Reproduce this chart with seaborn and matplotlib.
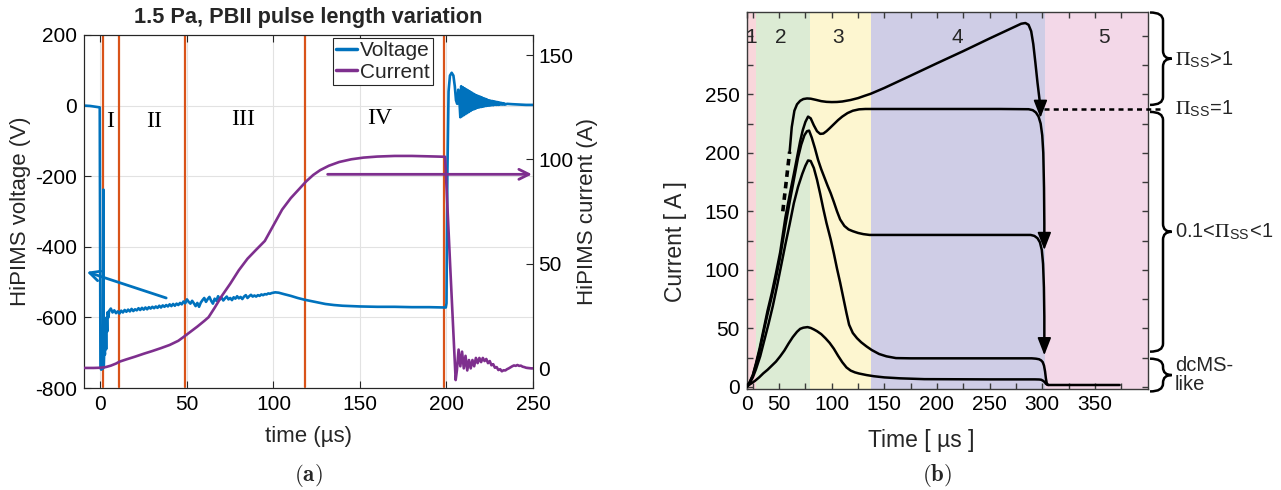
import numpy as np
import matplotlib
matplotlib.use("Agg")
import matplotlib.pyplot as plt
import seaborn as sns
from matplotlib import font_manager
from matplotlib.path import Path
from matplotlib.patches import PathPatch
from matplotlib.lines import Line2D

# ------------------------------------------------------------------ data (a)
volt_pre_t = [-9.5, -6, -3, -0.4]
volt_pre_v = [0, -1, -3, -5]
volt_start_t = [0.0, 0.4, 1.4, 1.7, 1.9, 2.2, 2.6, 3.0, 3.3, 3.6, 3.9, 4.2, 4.6]
volt_start_v = [-742, -748, -745, -238, -742, -690, -705, -620, -690, -600, -640, -585, -600]
volt_noise_t0 = 5  # first time of the 1-us spaced noisy section
volt_noise_v = [-582, -575, -586, -580, -588, -583, -589, -581, -586, -579,
                -584, -578, -583, -576, -582, -577, -580, -574, -579, -573,
                -578, -572, -577, -571, -575, -570, -574, -569, -573, -567,
                -572, -566, -570, -565, -569, -563, -568, -562, -567, -561,
                -565, -559, -563, -555, -560, -549, -556, -561, -553, -560,
                -568, -559, -570, -558, -551, -545, -556, -548, -542, -553,
                -561, -547, -553, -540, -549, -544, -552, -546, -541, -549,
                -545, -551, -543, -547, -540, -546, -542, -548, -541, -537,
                -545, -540, -536, -541, -538, -541, -537, -539, -535, -537,
                -534, -535, -532, -533, -531, -530]
volt_tail_t = [101, 103, 106, 110, 114, 118, 122, 126, 130, 135, 140, 150, 160, 170, 180, 190, 199.6]
volt_tail_v = [-529, -530, -534, -539, -545, -550, -554, -558, -562, -565, -567, -569, -570, -570, -571, -571, -572]
volt_post_t = [200.0, 200.5, 201.2, 202.0, 203.0, 204.0, 204.8, 205.5, 206.2, 206.8, 207.4, 208.0]
volt_post_v = [-560, -200, 40, 85, 93, 85, 55, 15, 5, 45, 20, -33]
volt_ring_t0 = 208.5  # ringing sampled every 0.5 us
volt_ring_v = [55, -30, 52, -27, 49, -24, 46, -21, 43, -18, 40, -15, 37, -12, 34, -10,
               31, -8, 29, -6, 27, -5, 25, -4, 23, -3, 21, -2, 19, -1, 17, 0, 15, 0,
               14, 1, 13, 1, 12, 2, 11, 2, 10, 2, 9, 3, 8, 3, 7, 3, 6, 3]
volt_end_t = [235, 238, 242, 246, 250]
volt_end_v = [5, 4, 3, 2, 2]

curr_t = [-9.5, -4, 0, 3, 6, 9, 11, 15, 20, 25, 30, 35, 40, 45, 48, 52, 56, 60, 62.5,
          66, 70, 75, 80, 85, 90, 95, 100, 105, 110, 115, 119, 123, 127, 132, 138,
          145, 152, 160, 170, 180, 190, 199.2, 202.2, 205.3]
curr_i = [0.2, 0.2, 0.3, 0.6, 1.3, 2.3, 3.2, 4.3, 5.6, 7, 8.3, 9.7, 11.2, 13.2, 15,
          17.5, 20, 22.7, 24.5, 29, 34.5, 40.5, 47, 52.5, 56.8, 61, 68.5, 76, 81.5,
          86, 89.6, 92.6, 94.9, 97, 98.8, 100.1, 100.9, 101.4, 101.7, 101.7, 101.5,
          101.3, 48, -5.6]
curr_post_t0 = 206  # 1-us spaced after the pulse
curr_post_i = [-1, 9, 1, 8, 0, 6, -1, 4, 0, 4, 1, 5, 2.5, 5, 3, 5, 3.5, 4.5, 2.5, 3.5,
               1.5, 2, 0.3, 0.6, -0.8, -0.4, -1.4, -0.9, -1, -0.4, 0, 0.5, 1, 1.4,
               1.2, 1.6, 1.2, 1.3, 0.8, 0.6, 0.3, 0.2, 0.1, 0, 0]

phase_lines_a = [1.3, 11.0, 48.7, 118.5, 198.3]
phase_labels_a = ["I", "II", "III", "IV"]
phase_label_t = [5.5, 31.0, 82.7, 161.5]
phase_label_v = [-44, -44, -40, -36]

# ------------------------------------------------------------------ data (b)
region_edges = [19, 28, 79, 137.5, 303, 400.5]
region_colors = ["#f9d6db", "#dcebd4", "#fdf6d0", "#cfcde6", "#f3d8e8"]
region_names = ["1", "2", "3", "4", "5"]
region_label_t = [23.7, 51.6, 105.8, 218.9, 358.3]

A_t = [60, 62, 64.5, 67, 70, 73, 76.5, 80, 85, 90, 95, 100, 105, 110, 118, 125, 131,
       137, 150, 175, 200, 225, 250, 270, 280, 284, 287, 289.5, 291.5, 293.5, 295.5, 297.5, 298.3]
A_i = [201, 222, 236, 241.5, 244.5, 246, 246.5, 246.3, 245.3, 244.2, 243.6, 243.4,
       243.5, 243.9, 245.2, 246.8, 248.7, 250.5, 255.5, 266, 276.6, 287, 297.8,
       306.2, 310.4, 311, 309.5, 304, 293, 277, 260, 245, 238]
A_dash_t = [53.5, 60]
A_dash_i = [150, 201]

B_t = [19, 22, 25, 28, 31.5, 35.5, 39, 43, 47, 51, 56, 60, 64, 67, 70, 72.5, 75, 77.5,
       80, 83, 86, 89, 92, 95, 98, 102, 106, 110, 115, 120, 126, 132, 140, 200, 260,
       287, 291, 294, 296.5, 298.5, 300, 301, 301.7, 302, 302]
B_i = [0, 4, 10, 20, 33, 50, 65, 80, 97, 115, 145, 164, 182, 196, 210, 219.5, 226.5,
       231, 229.5, 223.5, 218.5, 216.2, 216.5, 218.5, 221, 224.5, 228, 231, 234, 236,
       237.2, 237.5, 237.5, 237.5, 237.5, 237.3, 236.5, 234.5, 231, 225, 215, 200,
       170, 140, 125]

C_t = [19, 22, 25, 28, 31.5, 35.5, 39, 43, 47, 51, 56, 60, 64, 68, 71, 74, 76.5, 78.5,
       81, 84, 87, 90, 93, 96, 99, 102, 105, 108, 112, 116, 120, 125, 130, 136, 145,
       200, 260, 289, 292.5, 295.5, 297.8, 299.6, 300.8, 301.6, 302, 302]
C_i = [0, 3.5, 9.5, 19, 31, 48, 62, 77, 93, 111, 138, 158, 177, 196, 207, 215, 218.5,
       219, 213, 204, 194, 186, 179, 172, 165.5, 158, 150, 143, 137.5, 134.5, 133,
       131.5, 130.5, 129.8, 129.8, 129.8, 129.8, 129.8, 129, 127, 123.5, 117, 105,
       85, 60, 35]

D_t = [19, 22, 25, 28, 32, 36, 40, 44, 48, 52, 56, 60, 64, 68, 72, 75, 77.5, 80, 83,
       86, 89, 92, 95, 99, 102, 105, 108, 111, 114, 116.5, 120, 124, 128, 133, 138,
       145, 152, 161, 175, 200, 260, 290, 294, 297, 299, 300.5, 301.7, 302.7, 303.5,
       304.3, 305.5]
D_i = [0, 3, 8, 15, 26, 40, 54, 69, 86, 104, 122, 139, 157, 171, 182, 189, 193.5, 193,
       187, 177, 165, 152, 140, 126, 114, 101, 89, 76, 63, 53, 46, 41.5, 38, 34.5,
       31.4, 28, 26, 24.5, 24.3, 24.3, 24.3, 24.3, 24, 23.5, 22.5, 21, 18, 13, 7, 3, 1.5]

E_t = [19, 23, 27, 31, 35, 39, 43, 47, 51, 55, 59, 63, 67, 70, 73, 77, 80, 83, 86, 90,
       94, 98, 102, 106, 110, 114, 118, 122, 126, 133, 140, 150, 165, 188, 250, 293,
       297, 299, 301, 302.5, 303.5, 304.5, 306, 340, 373.5]
E_i = [0, 2.5, 5, 8, 11.5, 14.5, 18, 21.5, 26, 31, 37, 42.5, 47, 49.5, 50.5, 51, 50.3,
       49, 47.5, 45, 41.5, 37.5, 32.5, 26.5, 21, 16.5, 13.8, 12.3, 11.3, 10, 9, 8, 7.2,
       6.5, 6.3, 6.3, 6.2, 6, 5, 3.8, 2.5, 1.8, 1.5, 1.5, 1.5]

pi_one_level = 237.5
arrow_tips_b = [(298.3, 230), (302, 117), (302, 27)]

xticks_b = [19, 50, 100, 150, 200, 250, 300, 350]
xticklabels_b = ["0", "50", "100", "150", "200", "250", "300", "350"]

# ------------------------------------------------------------------ style
sns.set_theme(style="ticks")
avail = {f.name for f in font_manager.fontManager.ttflist}
SANS = "Liberation Sans" if "Liberation Sans" in avail else "DejaVu Sans"
SERIF = "Liberation Serif" if "Liberation Serif" in avail else "DejaVu Serif"
plt.rcParams["font.family"] = [SANS, "DejaVu Sans"]
plt.rcParams["mathtext.fontset"] = "stix"
plt.rcParams["axes.unicode_minus"] = False

BLUE = "#0072BD"
PURPLE = "#7E2F8E"
ORANGE = "#D95319"
AX_COL = "#262626"
FS_A = 15
FS_B = 15


def sline(ax, x, y, **kw):
    sns.lineplot(x=np.asarray(x, float), y=np.asarray(y, float), ax=ax, sort=False,
                 estimator=None, errorbar=None, legend=False, **kw)


fig = plt.figure(figsize=(12.81, 4.90), dpi=100)

# ================================================================== panel (a)
axA = fig.add_axes([84 / 1281, 102 / 490, 449 / 1281, 353 / 490])
axA2 = axA.twinx()

volt_t = (list(volt_pre_t) + list(volt_start_t)
          + list(volt_noise_t0 + np.arange(len(volt_noise_v)))
          + list(volt_tail_t) + list(volt_post_t)
          + list(volt_ring_t0 + 0.5 * np.arange(len(volt_ring_v))) + list(volt_end_t))
volt_v = (volt_pre_v + volt_start_v + volt_noise_v + volt_tail_v + volt_post_v
          + volt_ring_v + volt_end_v)
sline(axA, volt_t, volt_v, color=BLUE, linewidth=1.9, zorder=3)

for t in phase_lines_a:
    axA.axvline(t, ymin=0.004, ymax=1.0, color=ORANGE, lw=1.6, zorder=2)
for lab, t, v in zip(phase_labels_a, phase_label_t, phase_label_v):
    axA.text(t, v, lab, family=SERIF, fontsize=17, ha="center", va="center", color="black")

axA.annotate("", xy=(-7.9, -471), xytext=(38, -545),
             arrowprops=dict(arrowstyle="->,head_length=0.6,head_width=0.3", color=BLUE,
                             lw=2, shrinkA=0, shrinkB=0))

curr_all_t = list(curr_t) + list(curr_post_t0 + np.arange(len(curr_post_i)))
curr_all_i = curr_i + curr_post_i
sline(axA2, curr_all_t, curr_all_i, color=PURPLE, linewidth=1.9, zorder=3)
axA2.annotate("", xy=(249.4, 92.9), xytext=(131.3, 92.9),
              arrowprops=dict(arrowstyle="->,head_length=0.6,head_width=0.3", color=PURPLE,
                              lw=2, shrinkA=0, shrinkB=0))

axA.set_xlim(-9.5, 250)
axA.set_ylim(-800, 200)
axA2.set_ylim(-9.4, 159.6)
axA.set_xticks([0, 50, 100, 150, 200, 250])
axA.set_yticks([-800, -600, -400, -200, 0, 200])
axA2.set_yticks([0, 50, 100, 150])
axA.grid(True, color="#e2e2e2", lw=0.8)
axA.set_axisbelow(True)
for a in (axA, axA2):
    for s in a.spines.values():
        s.set_color(AX_COL)
        s.set_linewidth(0.8)
axA.tick_params(axis="both", direction="in", length=5, width=0.8, colors=AX_COL,
                labelsize=FS_A, labelcolor="black", top=True, right=False, pad=5)
axA2.tick_params(axis="y", direction="in", length=5, width=0.8, colors=AX_COL,
                 labelsize=FS_A, labelcolor="black", pad=4)
axA.set_xlabel("time (µs)", fontsize=16)
axA.set_ylabel("HiPIMS voltage (V)", fontsize=16)
axA2.set_ylabel("HiPIMS current (A)", fontsize=16)
axA.xaxis.set_label_coords(0.5, -0.1076)
axA.yaxis.set_label_coords(-0.118, 0.5)
axA2.yaxis.set_label_coords(1.0985, 0.5)
fig.text(308.5 / 1281, 1 - 18 / 490, "1.5 Pa, PBII pulse length variation",
         ha="center", va="center", fontsize=15.7, weight="bold")

handles = [Line2D([0], [0], color=BLUE, lw=2.5), Line2D([0], [0], color=PURPLE, lw=2.5)]
leg = axA2.legend(handles, ["Voltage", "Current"], loc="upper right",
                  bbox_to_anchor=(349 / 449, 350 / 353), fontsize=15, frameon=True,
                  fancybox=False, edgecolor=AX_COL, framealpha=1, borderpad=0.15,
                  handlelength=1.0, handletextpad=0.15, labelspacing=0.12,
                  borderaxespad=0)
leg.get_frame().set_linewidth(0.8)

fig.text(308 / 1281, 1 - 475 / 490, r"$\mathbf{(a)}$", ha="center", va="center",
         fontsize=16.5, math_fontfamily="cm")

# ================================================================== panel (b)
axB = fig.add_axes([746.5 / 1281, 101.5 / 490, 401.5 / 1281, 376 / 490])
for i, col in enumerate(region_colors):
    axB.axvspan(region_edges[i], region_edges[i + 1], color=col, lw=0, zorder=0)
for name, t in zip(region_names, region_label_t):
    axB.text(t, 299, name, fontsize=FS_B, ha="center", va="center")

LW = 1.8
sline(axB, A_t, A_i, color="black", linewidth=LW, zorder=3)
sline(axB, A_dash_t, A_dash_i, color="black", linewidth=2.6, zorder=3,
      linestyle=(0, (1.8, 1.4)))
for tt, ii in ((B_t, B_i), (C_t, C_i), (D_t, D_i), (E_t, E_i)):
    sline(axB, tt, ii, color="black", linewidth=LW, zorder=3)
for (tx, iy) in arrow_tips_b:
    axB.annotate("", xy=(tx, iy), xytext=(tx, iy + 14),
                 arrowprops=dict(arrowstyle="-|>,head_length=0.9,head_width=0.35",
                                 color="black", lw=1.2, shrinkA=0, shrinkB=0), zorder=4)
sline(axB, [302, 415.7], [pi_one_level, pi_one_level], color="black", linewidth=1.8,
      linestyle=(0, (2, 1.7)), clip_on=False, zorder=3)

axB.set_xlim(19, 400.5)
axB.set_ylim(-1.5, 320)
axB.set_xticks(xticks_b)
axB.set_xticklabels(xticklabels_b)
axB.set_xticks(np.arange(25, 400, 50), minor=True)
axB.set_yticks([0, 50, 100, 150, 200, 250])
axB.set_yticks([25, 75, 125, 175, 225, 275, 300], minor=True)
for s in axB.spines.values():
    s.set_color("#3a3a3a")
    s.set_linewidth(1.0)
for which in ("major", "minor"):
    axB.tick_params(axis="both", which=which, direction="in", length=4.5, width=1.0,
                    colors="#3a3a3a", top=True, right=True, labelcolor="black",
                    labelsize=FS_B, pad=5)
axB.set_xlabel("Time [ µs ]", fontsize=16.5)
axB.set_ylabel("Current [ A ]", fontsize=16.5)
axB.xaxis.set_label_coords(0.435, -0.1077)
axB.yaxis.set_label_coords(-0.148, 0.39)


def brace(ax, y_lo, y_hi, x0=1.005, w=0.054, r=6.8):
    r = min(r, (y_hi - y_lo) / 4.2)
    xm = x0 + 0.6 * w
    xt = x0 + w
    ym = 0.5 * (y_lo + y_hi)
    verts = [(x0, y_hi), (xm, y_hi), (xm, y_hi - r), (xm, ym + r), (xm, ym), (xt, ym),
             (xm, ym), (xm, ym - r), (xm, y_lo + r), (xm, y_lo), (x0, y_lo)]
    codes = [Path.MOVETO, Path.CURVE3, Path.CURVE3, Path.LINETO, Path.CURVE3, Path.CURVE3,
             Path.CURVE3, Path.CURVE3, Path.LINETO, Path.CURVE3, Path.CURVE3]
    ax.add_patch(PathPatch(Path(verts, codes), transform=ax.get_yaxis_transform(),
                           fill=False, lw=1.8, color="black", clip_on=False))


brace(axB, 241, 320)
brace(axB, 30, 235)
brace(axB, -4, 24)
tx = 1.067
ytr = axB.get_yaxis_transform()
FS_BR = 14.5
axB.text(tx, 279.5, r"$\Pi_{\mathregular{SS}}$>1", transform=ytr,
         fontsize=FS_BR, va="center", ha="left", math_fontfamily="stix")
axB.text(tx, 237.5, r"$\Pi_{\mathregular{SS}}$=1", transform=ytr,
         fontsize=FS_BR, va="center", ha="left", math_fontfamily="stix")
axB.text(tx, 132.5, r"0.1<$\Pi_{\mathregular{SS}}$<1", transform=ytr,
         fontsize=FS_BR, va="center", ha="left", math_fontfamily="stix")
axB.text(tx, 10, "dcMS-\nlike", transform=ytr,
         fontsize=FS_BR, va="center", ha="left", linespacing=1.0)

fig.text(937 / 1281, 1 - 475 / 490, r"$\mathbf{(b)}$", ha="center", va="center",
         fontsize=16.5, math_fontfamily="cm")

fig.savefig("out.png", dpi=100)
